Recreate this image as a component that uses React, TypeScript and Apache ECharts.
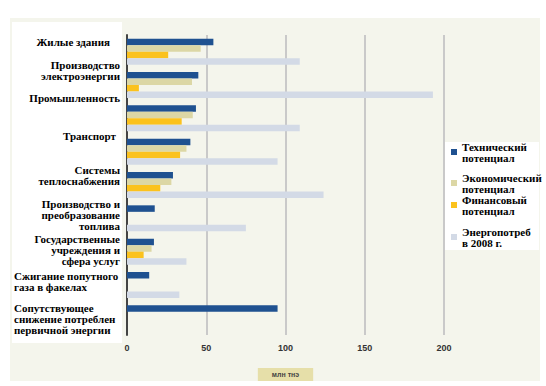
import React, { useEffect, useRef } from "react";
import * as echarts from "echarts";

const categories = [
  "Жилые здания",
  "Производство\nэлектроэнергии",
  "Промышленность",
  "Транспорт",
  "Системы\nтеплоснабжения",
  "Производство и\nпреобразование\nтоплива",
  "Государственные\nучреждения и\nсфера услуг",
  "Сжигание попутного\nгаза в факелах",
  "Сопутствующее\nснижение потреблен\nпервичной энергии",
];
// label vertical shift (px, negative = up), right inset and left alignment, as in the picture
const labelShift = [-10, -15, -20, -16, -10, -3, -2, -4, 1];
const labelInset = [10, 0, 0, 4, 0, 0, 0, 0, 0];
const leftAligned = [false, false, false, false, false, false, false, true, true];

const seriesNames = [
  "Технический\nпотенциал",
  "Экономический\nпотенциал",
  "Финансовый\nпотенциал",
  "Энергопотреб\nв 2008 г.",
];
const technical = [54.5, 45, 43.5, 40, 29, 17.5, 17, 14, 95];
const economic = [46.5, 41, 41.5, 37.5, 28, null, 15.5, null, null];
const financial = [26, 7.5, 34.5, 33.5, 21, null, 10.5, null, null];
const consumption2008 = [109, 193, 109, 95, 124, 75, 37.5, 33, null];
const xTicks = { min: 0, max: 200, interval: 50 };
const axisName = "млн тнэ";

const colors = ["#1f5190", "#dcd7a5", "#fbc21d", "#d3dae6"];
const serif = "Liberation Serif";
const sans = "Liberation Sans";

export default function App() {
  const ref = useRef<HTMLDivElement>(null);
  useEffect(() => {
    if (!ref.current) return;
    const chart = echarts.init(ref.current, undefined, { renderer: "svg" });
    const values = [technical, economic, financial, consumption2008];
    const legendTops = [141, 172, 194, 226];
    chart.setOption({
      animation: false,
      backgroundColor: "#ffffff",
      graphic: [
        { type: "rect", z: -10, shape: { x: 10, y: 18, width: 530, height: 363 }, style: { fill: "#f4f5ec" } },
        { type: "rect", z: -9, shape: { x: 12, y: 22, width: 110, height: 321 }, style: { fill: "#ffffff" } },
        { type: "rect", z: -9, shape: { x: 445, y: 142, width: 94, height: 108 }, style: { fill: "#ffffff" } },
      ],
      grid: { left: 127, right: 102, top: 35, height: 302, containLabel: false },
      legend: seriesNames.map((n, i) => ({
        data: [n],
        orient: "vertical",
        left: 451,
        top: legendTops[i],
        padding: 0,
        itemWidth: 6,
        itemHeight: 6,
        icon: "rect",
        selectedMode: false,
        textStyle: { fontFamily: serif, fontWeight: "bold", fontSize: 11, lineHeight: 11, color: "#000" },
      })),
      xAxis: {
        type: "value",
        min: xTicks.min,
        max: xTicks.max,
        interval: xTicks.interval,
        axisLine: { show: false },
        axisTick: { show: false },
        splitLine: { show: true, lineStyle: { color: "#c9c9c9", width: 2 } },
        axisLabel: { fontFamily: sans, fontWeight: "bold", fontSize: 9, color: "#333", margin: 8 },
        name: axisName,
        nameLocation: "middle",
        nameGap: 33,
        nameTextStyle: {
          fontFamily: sans,
          fontWeight: "bold",
          fontSize: 7,
          color: "#444",
          backgroundColor: "#e6dfa9",
          padding: [3, 14, 3, 14],
        },
      },
      yAxis: {
        type: "category",
        inverse: true,
        data: categories.map((c, i) => ({
          value: c,
          textStyle: {
            padding:
              labelShift[i] < 0
                ? [0, labelInset[i], -2 * labelShift[i], 0]
                : [2 * labelShift[i], labelInset[i], 0, 0],
          },
        })),
        axisLine: { show: true, lineStyle: { color: "#444", width: 2 } },
        axisTick: { show: false },
        axisLabel: {
          interval: 0,
          showMinLabel: true,
          showMaxLabel: true,
          hideOverlap: false,
          margin: 7,
          fontFamily: serif,
          fontWeight: "bold",
          fontSize: 11,
          lineHeight: 11,
          color: "#000",
          formatter: (v: string, i: number) =>
            leftAligned[i] ? v.split("\n").map((l) => `{l|${l}}`).join("\n") : v,
          rich: {
            l: { width: 106, align: "left", fontFamily: serif, fontWeight: "bold", fontSize: 11, lineHeight: 11, color: "#000" },
          },
        },
      },
      series: seriesNames.map((n, i) => ({
        type: "bar",
        name: n,
        data: values[i],
        barWidth: 6.5,
        barGap: "0%",
        itemStyle: { color: colors[i] },
        z: 2,
      })),
    });
    return () => chart.dispose();
  }, []);
  return (
    <div
      ref={ref}
      style={{ position: "fixed", left: 0, top: 0, width: 546, height: 386 }}
    />
  );
}
